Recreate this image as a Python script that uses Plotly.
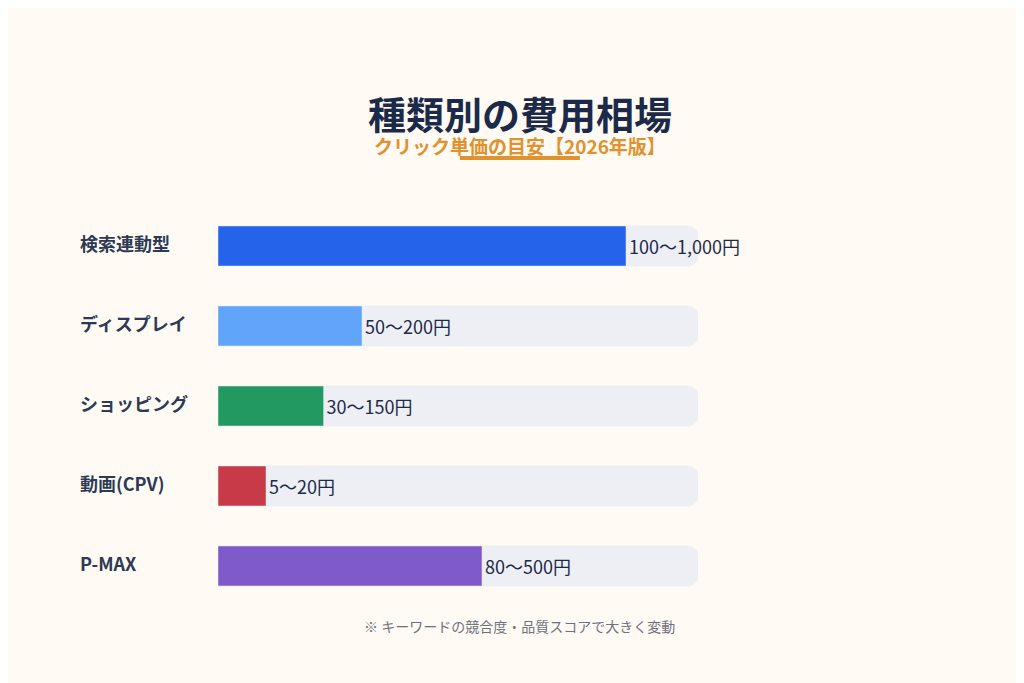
import plotly.graph_objects as go

categories = ["検索連動型", "ディスプレイ", "ショッピング", "動画(CPV)", "P-MAX"]
bar_share = [85, 30, 22, 10, 55]          # % of track length
value_labels = ["100〜1,000円", "50〜200円", "30〜150円", "5〜20円", "80〜500円"]
colors = ["#2563eb", "#60a5fa", "#229960", "#c83a48", "#7e5bc8"]
track_max = 100

font = "Noto Sans CJK JP"

fig = go.Figure()
fig.add_trace(go.Bar(
    y=categories, x=[track_max] * len(categories), orientation="h",
    marker=dict(color="#eeeef5", cornerradius=10), hoverinfo="skip",
))
fig.add_trace(go.Bar(
    y=categories, x=bar_share, orientation="h",
    marker=dict(color=colors, cornerradius=10),
    text=value_labels, textposition="outside", cliponaxis=False,
    textfont=dict(size=18, color="#1c2a4a", family=font),
))

annotations = [
    dict(text="<b>種類別の費用相場</b>", xref="paper", yref="paper", x=0.629, y=1,
         yshift=123, showarrow=False, font=dict(size=38, color="#1c2a4a", family=font)),
    dict(text="<b>クリック単価の目安【2026年版】</b>", xref="paper", yref="paper", x=0.629, y=1,
         yshift=76, showarrow=False, font=dict(size=19, color="#e0922f", family=font)),
    dict(text="※ キーワードの競合度・品質スコアで大きく変動", xref="paper", yref="paper",
         x=0.629, y=0, yshift=-32, showarrow=False,
         font=dict(size=14, color="#6b7280", family=font)),
]
for cat in categories:
    annotations.append(dict(text=f"<b>{cat}</b>", xref="paper", yref="y", x=0, y=cat,
                            xanchor="left", xshift=-140, yshift=3, showarrow=False,
                            font=dict(size=18, color="#2d3a55", family=font)))

fig.update_layout(
    width=1024, height=683,
    margin=dict(l=210, r=334, t=198, b=85),
    paper_bgcolor="#fffaf3", plot_bgcolor="rgba(0,0,0,0)",
    barmode="overlay", bargap=0.5, showlegend=False,
    xaxis=dict(range=[0, track_max], visible=False),
    yaxis=dict(autorange="reversed", visible=False),
    annotations=annotations,
    shapes=[dict(type="line", xref="paper", yref="paper", x0=0.504, x1=0.754,
                 y0=48, y1=48, ysizemode="pixel", yanchor=1,
                 line=dict(color="#e0922f", width=4))],
)

fig.write_html("out.html")
